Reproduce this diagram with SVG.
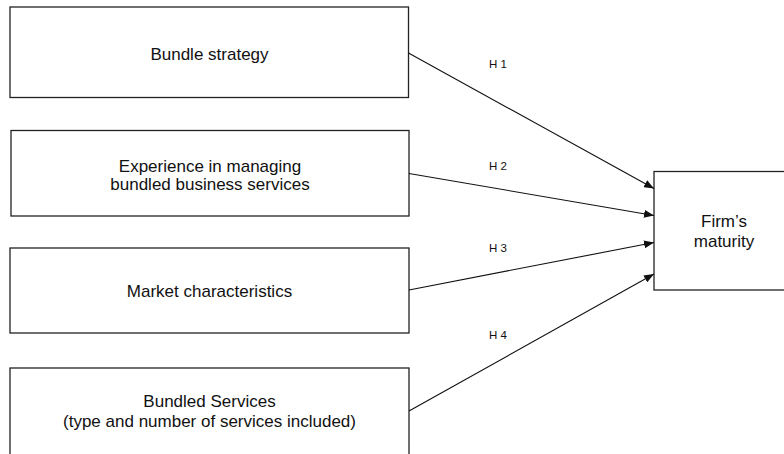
<svg xmlns="http://www.w3.org/2000/svg" width="784" height="454" viewBox="0 0 784 454">
<style>
.box{fill:#fff;stroke:#222;stroke-width:1.3}
.t{font-family:"Liberation Sans",Arial,sans-serif;font-size:17px;fill:#111;text-anchor:middle}
.h{font-family:"Liberation Sans",Arial,sans-serif;font-size:11.5px;fill:#111}
.c{stroke:#111;stroke-width:1.1;fill:none;marker-end:url(#ah)}
</style>
<defs>
<marker id="ah" viewBox="0 0 10 8" refX="10" refY="4" markerWidth="10" markerHeight="8" markerUnits="userSpaceOnUse" orient="auto">
<path d="M0,0 L10,4 L0,8 Z" fill="#111"/>
</marker>
</defs>
<rect width="784" height="454" fill="#fff"/>
<g id="n1"><rect class="box" x="10" y="7" width="398.5" height="90.5"/><text class="t" x="209.5" y="59.5">Bundle strategy</text></g>
<g id="n2"><rect class="box" x="11" y="130.5" width="398" height="85.5"/><text class="t" x="210" y="172">Experience in managing</text><text class="t" x="210" y="189.5">bundled business services</text></g>
<g id="n3"><rect class="box" x="10" y="248" width="399" height="85"/><text class="t" x="209.5" y="296.5">Market characteristics</text></g>
<g id="n4"><rect class="box" x="10" y="368" width="399" height="100"/><text class="t" x="209.5" y="407.3">Bundled Services</text><text class="t" x="209.5" y="426.7">(type and number of services included)</text></g>
<g id="n5"><rect class="box" x="654" y="171.5" width="150" height="118.5"/><text class="t" x="724" y="227">Firm’s</text><text class="t" x="724" y="246.5">maturity</text></g>
<g id="connectors">
<line class="c" x1="408.5" y1="53" x2="654" y2="188.5"/>
<line class="c" x1="409" y1="173.5" x2="654" y2="215.5"/>
<line class="c" x1="409" y1="290" x2="654" y2="242.5"/>
<line class="c" x1="409" y1="411" x2="654" y2="274"/>
<text class="h" x="489" y="68">H 1</text>
<text class="h" x="489" y="170">H 2</text>
<text class="h" x="489" y="251.7">H 3</text>
<text class="h" x="489" y="339">H 4</text>
</g>
</svg>
